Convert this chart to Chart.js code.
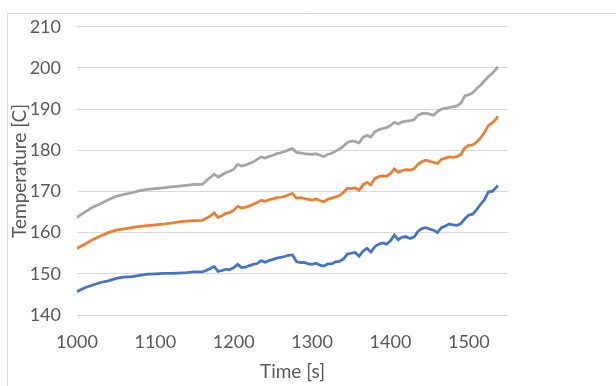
<!DOCTYPE html>
<html>
<head>
<meta charset="utf-8">
<script src="https://cdn.jsdelivr.net/npm/chart.js@4.4.1/dist/chart.umd.min.js"></script>
<style>
  html, body { margin: 0; padding: 0; background: #ffffff; }
  #wrap { position: relative; width: 616px; height: 386px; }
</style>
</head>
<body>
<div id="wrap"><canvas id="chart" width="616" height="386"></canvas></div>
<script>
// Sample times [s]
const timeS = [
  1000, 1010, 1020, 1030, 1040, 1050, 1060, 1070, 1080, 1090, 1100, 1110, 1120, 1130, 1140, 1150, 1160,
  1165, 1170, 1175, 1180, 1185, 1190, 1195, 1200, 1205, 1210, 1215, 1220, 1225, 1230, 1235, 1240, 1245,
  1250, 1255, 1260, 1265, 1270, 1275, 1280, 1285, 1290, 1295, 1300, 1305, 1310, 1315, 1320, 1325, 1330,
  1335, 1340, 1345, 1350, 1355, 1360, 1365, 1370, 1375, 1380, 1385, 1390, 1395, 1400, 1405, 1410, 1415,
  1420, 1425, 1430, 1435, 1440, 1445, 1450, 1455, 1460, 1465, 1470, 1475, 1480, 1485, 1490, 1495, 1500,
  1505, 1510, 1515, 1520, 1525, 1530, 1535, 1537
];

// Temperatures [C], lower sensor
const tempLow = [
  145.7, 146.6, 147.3, 147.9, 148.3, 148.9, 149.2, 149.3, 149.6, 149.9, 150.0, 150.1, 150.1, 150.2, 150.3, 150.5, 150.5,
  150.8, 151.3, 151.8, 150.6, 150.8, 151.1, 151.0, 151.5, 152.3, 151.5, 151.6, 152.0, 152.3, 152.5, 153.2, 152.8, 153.2,
  153.5, 153.8, 154.0, 154.2, 154.5, 154.6, 153.0, 152.7, 152.8, 152.4, 152.3, 152.6, 152.1, 151.9, 152.4, 152.4, 152.9,
  153.0, 153.6, 154.8, 155.0, 155.2, 154.3, 155.5, 156.2, 155.3, 156.6, 157.2, 157.5, 157.2, 158.0, 159.4, 158.3, 158.9,
  159.0, 158.6, 158.9, 160.3, 161.0, 161.2, 160.9, 160.6, 160.0, 161.2, 161.6, 162.1, 161.9, 161.8, 162.2, 163.4, 164.3,
  164.5, 165.6, 166.9, 168.0, 169.9, 170.0, 171.0, 171.5
];

// Temperatures [C], middle sensor
const tempMid = [
  156.2, 157.2, 158.3, 159.2, 160.0, 160.6, 160.9, 161.2, 161.5, 161.7, 161.9, 162.1, 162.3, 162.6, 162.8, 162.9, 163.0,
  163.5, 164.0, 164.8, 163.7, 164.1, 164.7, 164.9, 165.4, 166.4, 166.0, 166.2, 166.5, 166.9, 167.3, 167.9, 167.6, 168.0,
  168.2, 168.5, 168.6, 168.8, 169.2, 169.5, 168.4, 168.5, 168.3, 168.1, 167.9, 168.2, 167.8, 167.5, 168.1, 168.4, 168.7,
  169.0, 169.8, 170.8, 170.7, 170.9, 170.3, 171.6, 172.2, 171.6, 173.2, 173.6, 173.8, 173.7, 174.4, 175.5, 174.7, 175.1,
  175.3, 175.2, 175.5, 176.6, 177.2, 177.6, 177.3, 177.1, 176.8, 177.8, 178.1, 178.4, 178.3, 178.5, 179.0, 180.6, 181.2,
  181.3, 182.0, 183.0, 184.4, 186.0, 186.7, 187.6, 188.3
];

// Temperatures [C], upper sensor
const tempHigh = [
  163.7, 165.0, 166.2, 167.0, 168.0, 168.8, 169.3, 169.7, 170.2, 170.5, 170.7, 170.9, 171.1, 171.3, 171.5, 171.7, 171.7,
  172.6, 173.4, 174.2, 173.5, 174.0, 174.6, 174.9, 175.4, 176.6, 176.2, 176.4, 176.8, 177.2, 177.8, 178.4, 178.1, 178.5,
  178.8, 179.2, 179.4, 179.7, 180.1, 180.4, 179.5, 179.4, 179.2, 179.1, 179.0, 179.2, 178.8, 178.5, 179.0, 179.3, 179.8,
  180.3, 181.0, 181.9, 182.2, 182.1, 181.8, 183.2, 183.6, 183.2, 184.5, 185.0, 185.3, 185.5, 186.0, 186.8, 186.4, 186.9,
  187.1, 187.2, 187.4, 188.5, 188.9, 189.0, 188.8, 188.5, 189.4, 190.0, 190.2, 190.4, 190.6, 190.8, 191.5, 193.2, 193.5,
  194.0, 195.0, 195.8, 196.9, 197.9, 198.7, 199.8, 200.3
];

// Axis ranges and tick labels
const xRange = [1000, 1550];
const xTicks = [1000, 1100, 1200, 1300, 1400, 1500];
const yRange = [140, 210];
const yTicks = [140, 150, 160, 170, 180, 190, 200, 210];

const textColor = '#595959';
const gridColor = '#d9d9d9';
const fontFamily = 'Lato, "Open Sans", sans-serif';
const tickFont = { family: fontFamily, size: 18 };
const titleFont = { family: fontFamily, size: 19 };

const pts = vals => timeS.map((t, i) => ({ x: t, y: vals[i] }));

function lineSet(vals, color) {
  return {
    data: pts(vals),
    borderColor: color,
    backgroundColor: color,
    borderWidth: 2.75,
    pointRadius: 0,
    tension: 0,
    fill: false
  };
}

// Light frame around the chart object
const framePlugin = {
  id: 'frame',
  beforeDraw(chart) {
    const ctx = chart.ctx;
    ctx.save();
    ctx.fillStyle = '#ffffff';
    ctx.fillRect(0, 0, chart.width, chart.height);
    ctx.strokeStyle = '#d9d9d9';
    ctx.lineWidth = 1;
    ctx.beginPath();
    ctx.moveTo(7.5, chart.height);
    ctx.lineTo(7.5, 13.5);
    ctx.lineTo(chart.width, 13.5);
    ctx.stroke();
    ctx.restore();
  }
};

new Chart(document.getElementById('chart'), {
  type: 'line',
  data: {
    datasets: [
      lineSet(tempLow, '#4472C4'),
      lineSet(tempMid, '#ED7D31'),
      lineSet(tempHigh, '#A5A5A5')
    ]
  },
  options: {
    responsive: false,
    animation: false,
    devicePixelRatio: 1,
    layout: { padding: { left: 0, right: 108, top: 26, bottom: 0 } },
    plugins: {
      legend: { display: false },
      tooltip: { enabled: false }
    },
    scales: {
      x: {
        type: 'linear',
        min: xRange[0],
        max: xRange[1],
        grid: { display: false, drawTicks: false },
        border: { display: false },
        ticks: {
          color: textColor,
          padding: 16,
          maxRotation: 0,
          autoSkip: false,
          font: tickFont,
          callback: v => String(v)
        },
        afterBuildTicks: s => { s.ticks = xTicks.map(v => ({ value: v })); },
        afterFit: s => { s.height = 71; },
        title: {
          display: true,
          text: 'Time [s]',
          color: textColor,
          font: titleFont,
          padding: { top: 0, bottom: 3 }
        }
      },
      y: {
        min: yRange[0],
        max: yRange[1],
        grid: { color: gridColor, lineWidth: 1, drawTicks: false },
        border: { display: false },
        ticks: {
          color: textColor,
          padding: 16,
          autoSkip: false,
          font: tickFont,
          callback: v => String(v)
        },
        afterBuildTicks: s => { s.ticks = yTicks.map(v => ({ value: v })); },
        afterFit: s => { s.width = 77; },
        title: {
          display: true,
          text: 'Temperature [C]',
          color: textColor,
          font: titleFont,
          padding: { top: 8, bottom: 0 }
        }
      }
    }
  },
  plugins: [framePlugin]
});
</script>
</body>
</html>
